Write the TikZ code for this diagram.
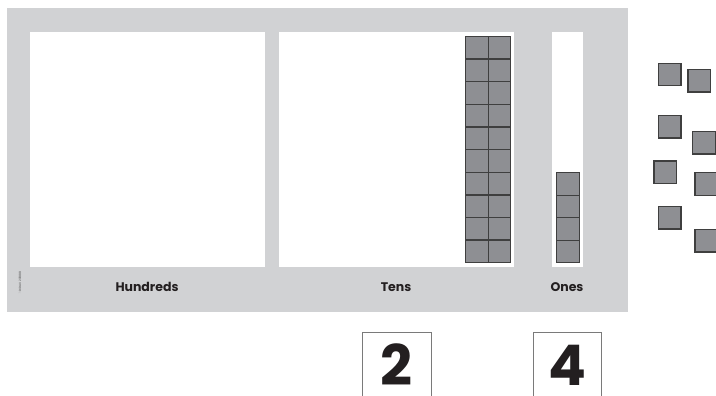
\documentclass[tikz,border=0pt]{standalone}
\usepackage{fontspec}
\setmainfont{Poppins}
\definecolor{board}{HTML}{D1D2D4}
\definecolor{cubefill}{HTML}{8E8F93}
\definecolor{cubeedge}{HTML}{3F3F3F}
\definecolor{cardedge}{HTML}{7A7A7A}
\definecolor{txt}{HTML}{231F20}
\tikzset{
  cube/.style={draw=cubeedge, fill=cubefill, line width=1.3pt, minimum size=22.5pt, inner sep=0pt, anchor=north west},
  mat/.style={fill=white, draw=none},
  lbl/.style={font=\fontsize{12.5}{14}\selectfont\bfseries, text=txt, anchor=base, inner sep=0pt},
  card/.style={draw=cardedge, line width=0.8pt, fill=white},
  digit/.style={font=\fontsize{56}{58}\selectfont\bfseries, text=txt, anchor=base, inner sep=0pt, text height=40pt, text depth=0pt}
}
\begin{document}
\begin{tikzpicture}[x=1pt, y=-1pt]
\useasboundingbox (0,0) rectangle (716,396);
\fill[white] (0,0) rectangle (716,396);
% board
\fill[board] (7,8) rectangle (628,312);
\fill[mat] (30,32) rectangle (265,267);
\fill[mat] (279,32) rectangle (514,267);
\fill[mat] (552,32) rectangle (583,267);
% labels
\node[lbl] (hundreds) at (147,291) {Hundreds};
\node[lbl] (tens) at (396,291) {Tens};
\node[lbl] (ones) at (567,291) {Ones};
\node[rotate=90, font=\fontsize{3}{3}\selectfont, text=black!70, inner sep=0pt] (copy) at (20,283) {© DIDAX 201888};
% tens rods
\foreach \c [count=\ci] in {465,487.5}{
  \foreach \r in {0,...,9}{
    \node[cube] (t\ci-\r) at (\c, 36+22.6*\r) {};
  }
}
% ones
\foreach \r in {0,...,3}{
  \node[cube] (o\r) at (556, 172+22.5*\r) {};
}
% loose cubes
\foreach \x/\y [count=\i] in {657.7/62.7, 687.3/69, 657.7/115, 692/131, 653.3/160.3, 694.3/172, 657.7/205.7, 694.3/228.7}{
  \node[cube] (l\i) at (\x,\y) {};
}
% number cards
\draw[card] (362.3,400) -- (362.3,332) -- (431,332) -- (431,400);
\draw[card] (533.3,400) -- (533.3,332) -- (601,332) -- (601,400);
\node[digit] (d2) at (396.7,385) {2};
\node[digit] (d4) at (567,385) {4};
\end{tikzpicture}
\end{document}
